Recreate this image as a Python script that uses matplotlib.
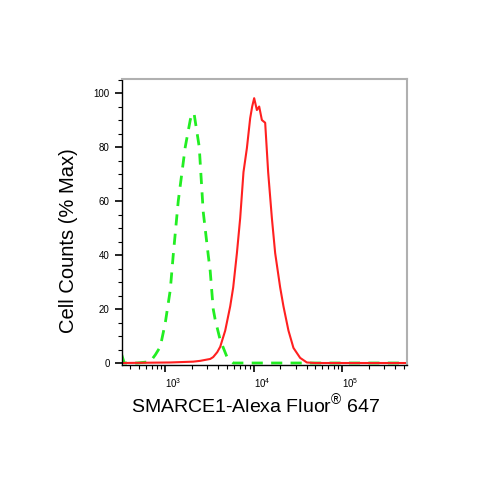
import matplotlib
matplotlib.use("Agg")
import matplotlib.pyplot as plt
from matplotlib.ticker import LogLocator, MultipleLocator, NullFormatter

plt.rcParams['font.family'] = ['Liberation Sans', 'DejaVu Sans']
plt.rcParams['mathtext.fontset'] = 'custom'
plt.rcParams['mathtext.rm'] = 'Liberation Sans'

# isotype control (green dashed)
ctrl_x = [322, 344, 483, 677, 771, 878, 1000, 1139, 1231, 1403, 1683, 1917, 2019,
          2127, 2423, 2688, 3062, 3225, 3486, 3673, 4183, 4981, 5867, 528700]
ctrl_y = [3, 0, 0, 0.5, 3, 6, 14.8, 27, 40, 60, 80, 90, 92.6,
          92, 80, 56, 40, 34, 20, 16, 8.5, 2.3, 0, 0]

# SMARCE1 stained (red)
stain_x = [318, 1139, 2072, 2486, 3225, 3486, 3869, 4183, 4764, 5427, 5867, 6461,
           7039, 7668, 8381, 9130, 9618, 10130, 10870, 11540, 12380, 13490, 14580,
           16060, 17500, 19930, 21720, 24740, 28170, 33530, 39920, 49540, 528700]
stain_y = [0, 0.2, 0.5, 0.8, 1.5, 2.2, 4, 6, 12, 21, 28, 40.7,
           53.7, 70.7, 79.6, 90.7, 95, 98.1, 93.7, 95, 90, 89, 70.7,
           53.7, 40.7, 28, 21, 12, 5.6, 1.9, 0.2, 0, 0]

fig = plt.figure(figsize=(5, 5), dpi=100)
ax = fig.add_axes([0.243, 0.27, 0.570, 0.572])

ax.plot(ctrl_x, ctrl_y, color='#22ee22', lw=2, linestyle=(0, (4, 3)))
ax.plot(stain_x, stain_y, color='#ff2020', lw=1.5)

ax.set_xscale('log')
ax.set_xlim(320, 535000)
ax.set_ylim(-0.74, 105.2)

ax.xaxis.set_major_locator(LogLocator(base=10, numticks=10))
ax.xaxis.set_minor_locator(LogLocator(base=10, subs=range(2, 10), numticks=20))
ax.xaxis.set_minor_formatter(NullFormatter())
ax.yaxis.set_major_locator(MultipleLocator(20))
ax.yaxis.set_minor_locator(MultipleLocator(5))

ax.tick_params(axis='both', which='major', length=5, width=1.2, labelsize=7, colors='black')
ax.tick_params(axis='both', which='minor', length=3, width=0.8)
ax.tick_params(axis='x', which='major', pad=3)
for lab in ax.get_xticklabels():
    lab.set_ha('left')

for side in ['top', 'right']:
    ax.spines[side].set_color('#b0b0b0')
    ax.spines[side].set_linewidth(1.5)
for side in ['left', 'bottom']:
    ax.spines[side].set_linewidth(1.0)

ax.set_xlabel(r'SMARCE1-Alexa Fluor$^{\mathrm{®}}$ 647', fontsize=14)
ax.xaxis.set_label_coords(0.472, -0.097)
ax.set_ylabel('Cell Counts (% Max)', fontsize=14.5)
ax.yaxis.set_label_coords(-0.153, 0.434)

fig.savefig('out.png', dpi=100)
